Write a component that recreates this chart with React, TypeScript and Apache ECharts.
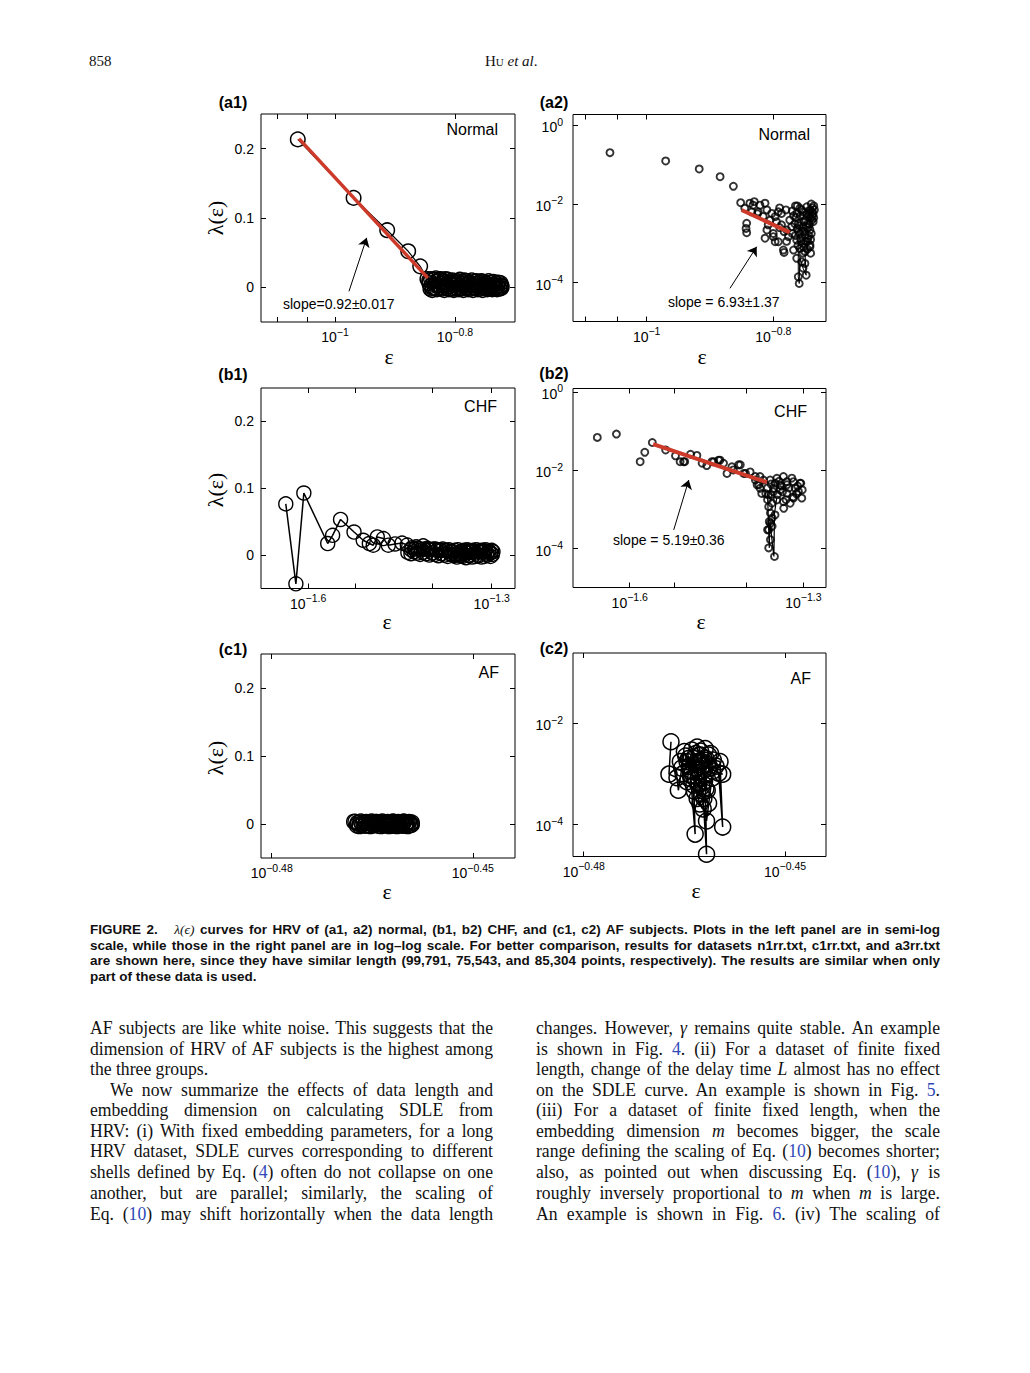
import React, { useEffect, useLayoutEffect, useRef } from 'react';
import * as echarts from 'echarts';

const SANS = '"Liberation Sans", Arial, Helvetica, sans-serif';
const SERIF = '"Liberation Serif", "Times New Roman", serif';
const RED = '#cd3a2a';
const BLUE = '#2f48b8';

// ---------- tick values (log10 exponents for log axes) ----------
const aXTicks = [-1, -0.8];
const aXMinor = [-1.0969, -1.0458];
const bXTicks = [-1.6, -1.3];
const bXMinor = [-1.5229, -1.3979];
const cXTicks = [-0.48, -0.45];
const linYTicks = [0, 0.1, 0.2];
const abLogYTicks = [-4, -2, 0];
const cLogYTicks = [-4, -2];

// ---------- (a1) Normal, semi-log: [log10 eps, lambda] ----------
const a1Points: number[][] = [
  [-1.062, 0.2134], [-0.969, 0.129], [-0.913, 0.0824], [-0.878, 0.052], [-0.858, 0.0303], [-0.846, 0.012],
  [-0.843, 0.006], [-0.840, 0.002], [-0.837, -0.001], [-0.834, 0.004], [-0.831, 0.009], [-0.828, 0.003],
  [-0.825, 0.011], [-0.822, 0.006], [-0.819, 0.002], [-0.816, 0.008], [-0.813, 0.004], [-0.810, 0.001],
  [-0.807, 0.006], [-0.804, 0.003], [-0.801, -0.002], [-0.798, 0.004], [-0.795, 0.007], [-0.792, 0.002],
  [-0.789, -0.001], [-0.786, 0.005], [-0.783, 0.003], [-0.780, 0.000], [-0.777, 0.006], [-0.774, 0.002],
  [-0.771, 0.004], [-0.768, -0.001], [-0.765, 0.003], [-0.762, 0.005], [-0.759, 0.001], [-0.756, 0.004],
  [-0.753, 0.000], [-0.750, 0.003], [-0.747, 0.005], [-0.744, 0.001], [-0.741, -0.002], [-0.738, 0.003],
  [-0.735, 0.004], [-0.732, 0.000], [-0.729, 0.002], [-0.726, -0.001], [-0.723, 0.003], [-0.722, 0.001],
  [-0.724, 0.006], [-0.728, 0.007], [-0.732, 0.006], [-0.736, 0.008], [-0.740, 0.007], [-0.744, 0.009],
  [-0.748, 0.006], [-0.752, 0.008], [-0.756, 0.009], [-0.760, 0.007], [-0.764, 0.009], [-0.768, 0.008],
  [-0.772, 0.010], [-0.776, 0.007], [-0.780, 0.009], [-0.784, 0.010], [-0.788, 0.008], [-0.792, 0.011],
  [-0.796, 0.009], [-0.800, 0.008], [-0.804, 0.010], [-0.808, 0.009], [-0.812, 0.011], [-0.816, 0.012],
  [-0.820, 0.009], [-0.824, 0.012], [-0.828, 0.010], [-0.832, 0.013], [-0.836, 0.011], [-0.840, 0.012],
  [-0.843, 0.010], [-0.841, -0.002], [-0.838, -0.004], [-0.834, -0.001], [-0.830, -0.003], [-0.826, 0.000],
  [-0.822, -0.002], [-0.818, -0.004], [-0.814, -0.001], [-0.810, -0.003], [-0.806, -0.002], [-0.802, -0.004],
  [-0.798, -0.001], [-0.794, -0.003], [-0.790, -0.002], [-0.786, -0.004], [-0.782, -0.001], [-0.778, -0.003],
  [-0.774, -0.002], [-0.770, -0.004], [-0.766, -0.001], [-0.762, -0.003], [-0.758, -0.002], [-0.754, -0.004],
  [-0.750, -0.001], [-0.746, -0.003], [-0.742, -0.002], [-0.738, -0.003], [-0.734, -0.002], [-0.730, -0.003],
  [-0.726, -0.002], [-0.723, -0.001],
];
const a1Fit: number[][] = [[-1.060, 0.2145], [-0.8455, 0.0136]];
const a1Arrow: number[][] = [[-0.9767, -0.0058], [-0.9472, 0.0714]];

// ---------- (a2) Normal, log-log: [log10 eps, log10 lambda] ----------
const a2Points: number[][] = [
  [-1.058, -0.695], [-0.970, -0.907], [-0.917, -1.11], [-0.884, -1.306], [-0.863, -1.55],
  [-0.8515, -1.967], [-0.845, -2.11], [-0.837, -1.98], [-0.832, -2.03], [-0.834, -2.20], [-0.842, -2.49],
  [-0.843, -2.62], [-0.842, -2.73], [-0.830, -1.94], [-0.821, -2.03], [-0.813, -1.98], [-0.825, -2.25],
  [-0.824, -2.20], [-0.816, -2.32], [-0.810, -2.15], [-0.8025, -2.24], [-0.805, -2.41], [-0.797, -2.32],
  [-0.792, -2.20], [-0.787, -2.24], [-0.790, -2.10], [-0.780, -2.15], [-0.770, -2.18], [-0.808, -2.53],
  [-0.810, -2.66], [-0.813, -2.87], [-0.800, -2.75], [-0.797, -2.96], [-0.800, -2.83], [-0.792, -2.96],
  [-0.784, -3.17], [-0.783, -3.23], [-0.787, -2.53], [-0.779, -2.66], [-0.776, -2.83], [-0.771, -2.58],
  [-0.774, -2.41], [-0.795, -2.45], [-0.790, -2.60], [-0.783, -2.70], [-0.779, -2.95], [-0.770, -2.75],
  [-0.766, -2.50], [-0.768, -2.30], [-0.765, -2.05],
  [-0.763, -2.24], [-0.758, -2.11], [-0.753, -2.20], [-0.747, -2.07], [-0.742, -2.15], [-0.737, -2.24],
  [-0.7605, -2.49], [-0.753, -2.58], [-0.745, -2.49], [-0.739, -2.41], [-0.758, -2.75], [-0.750, -2.79],
  [-0.742, -2.66], [-0.763, -2.92], [-0.753, -3.00], [-0.745, -2.87], [-0.758, -3.13], [-0.750, -3.21],
  [-0.742, -3.09], [-0.762, -2.05], [-0.757, -2.30], [-0.752, -2.45], [-0.747, -2.25], [-0.741, -2.35],
  [-0.736, -2.05], [-0.760, -2.70], [-0.754, -2.68], [-0.748, -2.58], [-0.743, -2.52], [-0.738, -2.30],
  [-0.761, -3.05], [-0.749, -2.95], [-0.744, -2.80], [-0.739, -2.20], [-0.735, -2.15], [-0.757, -2.88],
  [-0.752, -3.10], [-0.746, -3.15], [-0.765, -2.80], [-0.744, -2.30], [-0.740, -2.00], [-0.738, -2.10],
  [-0.764, -2.35], [-0.759, -2.55], [-0.755, -2.15], [-0.749, -2.40], [-0.745, -2.60], [-0.740, -2.75],
  [-0.737, -2.45], [-0.756, -2.95], [-0.751, -2.70], [-0.746, -2.95], [-0.741, -2.90], [-0.762, -2.62],
  [-0.752, -2.30], [-0.743, -2.18], [-0.736, -2.35],
  [-0.763, -3.38], [-0.753, -3.25], [-0.741, -3.25], [-0.755, -3.47], [-0.7605, -3.85], [-0.759, -4.02],
  [-0.748, -3.81], [-0.742, -3.04], [-0.750, -3.51], [-0.768, -3.17], [-0.753, -3.63],
];
const a2Column: number[][] = [[-0.7605, -3.00], [-0.7605, -3.85], [-0.759, -4.02], [-0.758, -3.40], [-0.753, -3.63], [-0.748, -3.81], [-0.750, -3.20]];
const a2Fit: number[][] = [[-0.850, -2.153], [-0.774, -2.72]];
const a2Arrow: number[][] = [[-0.8684, -4.143], [-0.8262, -3.086]];

// ---------- (b1) CHF, semi-log ----------
const b1Points: number[][] = [
  [-1.6365, 0.0766], [-1.620, -0.043], [-1.607, 0.0929], [-1.568, 0.0173], [-1.560, 0.0296], [-1.547, 0.0533],
  [-1.525, 0.0345], [-1.510, 0.0222], [-1.500, 0.0173], [-1.4936, 0.0148], [-1.487, 0.0271], [-1.477, 0.0247],
  [-1.469, 0.0148], [-1.458, 0.0166], [-1.4465, 0.018], [-1.438, 0.015], [-1.432, 0.0083], [-1.4235, 0.0123],
  [-1.412, 0.0138], [-1.403, 0.0083], [-1.392, 0.0091], [-1.383, 0.0069], [-1.375, 0.0069], [-1.369, 0.0056],
  [-1.365, 0.0045], [-1.360, 0.0012], [-1.357, 0.0008], [-1.354, 0.003], [-1.350, -0.001], [-1.347, 0.002],
  [-1.343, 0.005], [-1.340, 0.0035], [-1.336, 0.0065], [-1.333, 0.004], [-1.330, 0.006], [-1.326, 0.003],
  [-1.322, 0.005], [-1.318, 0.0068], [-1.315, 0.004], [-1.311, 0.006], [-1.308, 0.003], [-1.305, 0.005],
  [-1.302, 0.0035], [-1.298, 0.005],
  [-1.300, 0.007], [-1.305, 0.006], [-1.310, 0.008], [-1.315, 0.007], [-1.320, 0.006], [-1.325, 0.008],
  [-1.330, 0.007], [-1.335, 0.006], [-1.340, 0.008], [-1.345, 0.007], [-1.350, 0.006], [-1.355, 0.008],
  [-1.360, 0.007], [-1.365, 0.006], [-1.370, 0.008], [-1.375, 0.007], [-1.380, 0.009], [-1.385, 0.008],
  [-1.390, 0.007], [-1.395, 0.009], [-1.400, 0.008], [-1.405, 0.010], [-1.410, 0.009], [-1.415, 0.008],
  [-1.420, 0.010], [-1.425, 0.009], [-1.430, 0.011], [-1.437, 0.004], [-1.432, 0.002], [-1.427, 0.005],
  [-1.422, 0.003], [-1.417, 0.001], [-1.412, 0.004], [-1.407, 0.002], [-1.402, 0.000], [-1.397, 0.003],
  [-1.392, 0.001], [-1.387, -0.001], [-1.382, 0.002], [-1.377, 0.000], [-1.372, -0.002], [-1.367, 0.001],
  [-1.362, -0.001], [-1.357, -0.003], [-1.352, 0.000], [-1.347, -0.002], [-1.342, -0.004], [-1.337, -0.001],
  [-1.332, -0.003], [-1.327, -0.002], [-1.322, -0.001], [-1.317, -0.003], [-1.312, -0.002], [-1.307, 0.000],
  [-1.302, -0.002], [-1.299, 0.001],
];

// ---------- (b2) CHF, log-log ----------
const b2Points: number[][] = [
  [-1.656, -1.16], [-1.623, -1.076], [-1.582, -1.78], [-1.574, -1.54], [-1.561, -1.29], [-1.538, -1.48],
  [-1.521, -1.63], [-1.513, -1.78], [-1.505, -1.78], [-1.507, -1.78], [-1.495, -1.59], [-1.484, -1.62],
  [-1.475, -1.82], [-1.467, -1.88], [-1.458, -1.78], [-1.455, -1.78], [-1.4465, -1.74], [-1.444, -1.74],
  [-1.438, -1.82], [-1.432, -2.08], [-1.4235, -1.91], [-1.421, -1.99], [-1.412, -1.86], [-1.409, -1.86],
  [-1.403, -2.08], [-1.400, -2.08], [-1.392, -2.04], [-1.383, -2.16], [-1.383, -2.25], [-1.375, -2.16],
  [-1.380, -2.37], [-1.375, -2.46], [-1.377, -2.37], [-1.372, -2.59], [-1.369, -2.25],
  [-1.3574, -2.247], [-1.3459, -2.204], [-1.3345, -2.16], [-1.3286, -2.29], [-1.3172, -2.29], [-1.3057, -2.33],
  [-1.3086, -2.54], [-1.3028, -2.71], [-1.3172, -2.71], [-1.3286, -2.585], [-1.3402, -2.50], [-1.3517, -2.46],
  [-1.3603, -2.63], [-1.3459, -2.755], [-1.3345, -2.80], [-1.3229, -2.84], [-1.3545, -2.84], [-1.3402, -2.374],
  [-1.3143, -2.46], [-1.3488, -2.33], [-1.3045, -2.33], [-1.3286, -2.37], [-1.338, -2.40], [-1.325, -2.45],
  [-1.312, -2.60], [-1.345, -2.62], [-1.320, -2.20], [-1.310, -2.40], [-1.302, -2.50], [-1.352, -2.55],
  [-1.330, -2.75], [-1.318, -2.68], [-1.356, -2.35], [-1.362, -2.45], [-1.342, -2.28], [-1.336, -2.55],
  [-1.360, -2.93], [-1.357, -3.09], [-1.354, -3.22], [-1.349, -3.14], [-1.357, -3.35], [-1.360, -3.52],
  [-1.354, -3.43], [-1.357, -3.77], [-1.360, -3.98], [-1.350, -4.20], [-1.362, -3.52], [-1.359, -3.31],
  [-1.334, -2.97], [-1.362, -2.75], [-1.365, -2.60], [-1.356, -2.62],
];
const b2Column: number[][] = [[-1.362, -2.6], [-1.359, -3.98], [-1.358, -3.3], [-1.351, -4.20], [-1.350, -3.1], [-1.346, -2.7]];
const b2Fit: number[][] = [[-1.5597, -1.331], [-1.363, -2.305]];
const b2Arrow: number[][] = [[-1.524, -3.52], [-1.498, -2.247]];

// ---------- (c1) AF, semi-log ----------
const c1Points: number[][] = [
  [-0.4677, 0.0034], [-0.4669, -0.0004], [-0.4672, 0.0012], [-0.4660, 0.0022], [-0.4650, 0.0010], [-0.4655, -0.0015],
  [-0.4641, 0.0018], [-0.4646, -0.0006], [-0.4636, 0.0002], [-0.4631, 0.0025], [-0.4626, -0.0020], [-0.4629, 0.0008],
  [-0.4619, 0.0030], [-0.4622, -0.0010], [-0.4614, 0.0012], [-0.4617, -0.0025], [-0.4609, 0.0020], [-0.4612, -0.0005],
  [-0.4605, 0.0008], [-0.4600, -0.0015], [-0.4597, 0.0020], [-0.4599, 0.0002], [-0.4593, 0.0010], [-0.4591, -0.0008],
  [-0.4603, 0.0028], [-0.4634, -0.0018], [-0.4645, 0.0030], [-0.4624, 0.0015],
  [-0.4675, 0.0030], [-0.4671, 0.0020], [-0.4667, 0.0035], [-0.4663, 0.0020], [-0.4659, 0.0030], [-0.4655, 0.0025],
  [-0.4651, 0.0035], [-0.4647, 0.0020], [-0.4643, 0.0030], [-0.4639, 0.0025], [-0.4635, 0.0035], [-0.4631, 0.0020],
  [-0.4627, 0.0030], [-0.4623, 0.0025], [-0.4619, 0.0035], [-0.4615, 0.0020], [-0.4611, 0.0030], [-0.4607, 0.0025],
  [-0.4603, 0.0035], [-0.4599, 0.0020], [-0.4595, 0.0030], [-0.4591, 0.0020],
  [-0.4593, -0.0015], [-0.4597, -0.0030], [-0.4601, -0.0020], [-0.4605, -0.0025], [-0.4609, -0.0015], [-0.4613, -0.0030],
  [-0.4617, -0.0020], [-0.4621, -0.0010], [-0.4625, -0.0030], [-0.4629, -0.0020], [-0.4633, -0.0015], [-0.4637, -0.0030],
  [-0.4641, -0.0025], [-0.4645, -0.0010], [-0.4649, -0.0020], [-0.4653, -0.0030], [-0.4657, -0.0015], [-0.4661, -0.0025],
  [-0.4665, -0.0010], [-0.4669, -0.0030], [-0.4673, -0.0020],
];

// ---------- (c2) AF, log-log ----------
const c2Points: number[][] = [
  [-0.4670, -2.366], [-0.4673, -3.01], [-0.4661, -3.08], [-0.4659, -3.33], [-0.4650, -2.56], [-0.4656, -2.76],
  [-0.4646, -2.76], [-0.4654, -2.89], [-0.4636, -2.70], [-0.4641, -3.03], [-0.4634, -4.20], [-0.4636, -3.23],
  [-0.4619, -2.50], [-0.4626, -2.63], [-0.4617, -4.60], [-0.4619, -3.03], [-0.4614, -2.63], [-0.4607, -2.73],
  [-0.4597, -2.76], [-0.4593, -4.06], [-0.4599, -2.99], [-0.4593, -3.01], [-0.4612, -2.89], [-0.4622, -2.83],
  [-0.4631, -2.89], [-0.4629, -3.09], [-0.4617, -3.94], [-0.4609, -3.09], [-0.4624, -3.26], [-0.4631, -3.49],
  [-0.4621, -3.49], [-0.4614, -3.59], [-0.4646, -3.16], [-0.4639, -2.53], [-0.4631, -2.47], [-0.4624, -2.76],
  [-0.4616, -3.33], [-0.4648, -2.65], [-0.4643, -2.85], [-0.4638, -2.95], [-0.4633, -2.60], [-0.4628, -2.75],
  [-0.4623, -2.95], [-0.4618, -2.70], [-0.4613, -2.85], [-0.4608, -2.95], [-0.4640, -3.10], [-0.4630, -3.20],
  [-0.4620, -3.15], [-0.4626, -2.55], [-0.4611, -2.60], [-0.4603, -2.85], [-0.4652, -3.00], [-0.4635, -3.35],
  [-0.4625, -3.40], [-0.4618, -3.30], [-0.4644, -2.70], [-0.4627, -3.60], [-0.4622, -3.70],
];

// ---------- layout ----------
const panels = [
  { left: 261, top: 114, width: 254, height: 208, x: [-1.1233, -0.7], y: [-0.05, 0.25], xt: aXTicks, xm: aXMinor, yt: linYTicks, yLog: false },
  { left: 573, top: 114.5, width: 253, height: 207, x: [-1.1164, -0.7167], y: [-4.986, 0.274], xt: aXTicks, xm: aXMinor, yt: abLogYTicks, yLog: true },
  { left: 261, top: 388, width: 254, height: 200.5, x: [-1.677, -1.262], y: [-0.05, 0.25], xt: bXTicks, xm: bXMinor, yt: linYTicks, yLog: false },
  { left: 573, top: 388.5, width: 253, height: 199, x: [-1.698, -1.261], y: [-4.991, 0.088], xt: bXTicks, xm: bXMinor, yt: abLogYTicks, yLog: true },
  { left: 261, top: 654, width: 254, height: 204, x: [-0.4816, -0.4437], y: [-0.05, 0.25], xt: cXTicks, xm: [], yt: linYTicks, yLog: false },
  { left: 573, top: 653, width: 253, height: 203.5, x: [-0.4816, -0.4439], y: [-4.645, -0.604], xt: cXTicks, xm: [], yt: cLogYTicks, yLog: true },
];

const expText = (v: number) => {
  const r = Math.round(v * 100) / 100;
  return r === 0 ? '0' : '\u2212' + String(Math.abs(r));
};
const logLabel = (v: number) => `{b|10}{s|${expText(v)}}`;
const rich = {
  b: { fontSize: 14, fontFamily: SANS, color: '#000', lineHeight: 18, verticalAlign: 'bottom' },
  s: { fontSize: 10.5, fontFamily: SANS, color: '#000', verticalAlign: 'top' },
};

const circle = (bw: number) => ({ color: 'rgba(0,0,0,0)', borderColor: '#000', borderWidth: bw });
const arrowMark = (pts: number[][]) => ({
  silent: true,
  symbol: ['none', 'arrow'],
  symbolSize: 9,
  lineStyle: { color: '#000', width: 1, type: 'solid' },
  itemStyle: { color: '#000' },
  label: { show: false },
  emphasis: { disabled: true },
  data: [[{ coord: pts[0] }, { coord: pts[1] }]],
});

const textItems: any[] = [
  { t: '(a1)', x: 233, y: 102, s: 16, w: 'bold', a: 'center' },
  { t: '(a2)', x: 554, y: 102, s: 16, w: 'bold', a: 'center' },
  { t: '(b1)', x: 233, y: 374, s: 16, w: 'bold', a: 'center' },
  { t: '(b2)', x: 554, y: 373, s: 16, w: 'bold', a: 'center' },
  { t: '(c1)', x: 233, y: 649, s: 16, w: 'bold', a: 'center' },
  { t: '(c2)', x: 554, y: 648, s: 16, w: 'bold', a: 'center' },
  { t: 'Normal', x: 498, y: 129, s: 16, a: 'right' },
  { t: 'Normal', x: 810, y: 134, s: 16, a: 'right' },
  { t: 'CHF', x: 497, y: 406, s: 16, a: 'right' },
  { t: 'CHF', x: 807, y: 411, s: 16, a: 'right' },
  { t: 'AF', x: 499, y: 672, s: 16, a: 'right' },
  { t: 'AF', x: 811, y: 678, s: 16, a: 'right' },
  { t: 'slope=0.92\u00b10.017', x: 283, y: 304, s: 14, a: 'left' },
  { t: 'slope = 6.93\u00b11.37', x: 668, y: 302, s: 14, a: 'left' },
  { t: 'slope = 5.19\u00b10.36', x: 613, y: 540, s: 14, a: 'left' },
  { t: '\u03bb(\u03b5)', x: 215, y: 218, s: 22, f: SERIF, a: 'center', r: Math.PI / 2 },
  { t: '\u03bb(\u03b5)', x: 215, y: 490, s: 22, f: SERIF, a: 'center', r: Math.PI / 2 },
  { t: '\u03bb(\u03b5)', x: 215, y: 758, s: 22, f: SERIF, a: 'center', r: Math.PI / 2 },
  { t: '\u03b5', x: 389, y: 356, s: 22, f: SERIF, a: 'center' },
  { t: '\u03b5', x: 702, y: 356, s: 22, f: SERIF, a: 'center' },
  { t: '\u03b5', x: 387, y: 621, s: 22, f: SERIF, a: 'center' },
  { t: '\u03b5', x: 701, y: 621, s: 22, f: SERIF, a: 'center' },
  { t: '\u03b5', x: 387, y: 891, s: 22, f: SERIF, a: 'center' },
  { t: '\u03b5', x: 696, y: 890, s: 22, f: SERIF, a: 'center' },
];

function buildOption(): any {
  const grids = panels.map((p) => ({
    left: p.left, top: p.top, width: p.width, height: p.height,
    show: true, borderColor: '#000', borderWidth: 1, backgroundColor: 'transparent',
  }));
  const tick = (vals: number[]) => ({ show: true, inside: true, length: 5, customValues: vals, lineStyle: { color: '#000', width: 1 } });
  const xAxes = [
    ...panels.map((p, i) => ({
      type: 'value', gridIndex: i, min: p.x[0], max: p.x[1], position: 'bottom',
      axisLine: { show: false, onZero: false }, splitLine: { show: false },
      axisTick: tick([...p.xt, ...p.xm]),
      axisLabel: { show: true, customValues: p.xt, formatter: (v: number) => logLabel(v), margin: 4, rich },
    })),
    ...panels.map((p, i) => ({
      type: 'value', gridIndex: i, min: p.x[0], max: p.x[1], position: 'top',
      axisLine: { show: false, onZero: false }, splitLine: { show: false },
      axisTick: tick([...p.xt, ...p.xm]), axisLabel: { show: false },
    })),
  ];
  const yAxes = [
    ...panels.map((p, i) => ({
      type: 'value', gridIndex: i, min: p.y[0], max: p.y[1], position: 'left',
      axisLine: { show: false, onZero: false }, splitLine: { show: false },
      axisTick: tick(p.yt),
      axisLabel: p.yLog
        ? { show: true, customValues: p.yt, formatter: (v: number) => logLabel(v), margin: 10, rich }
        : { show: true, customValues: p.yt, formatter: (v: number) => (Math.abs(v) < 1e-9 ? '0' : String(Math.round(v * 10) / 10)), margin: 7, fontSize: 14, fontFamily: SANS, color: '#000' },
    })),
    ...panels.map((p, i) => ({
      type: 'value', gridIndex: i, min: p.y[0], max: p.y[1], position: 'right',
      axisLine: { show: false, onZero: false }, splitLine: { show: false },
      axisTick: tick(p.yt), axisLabel: { show: false },
    })),
  ];

  const lineWithCircles = (i: number, data: number[][], size: number, bw: number, lw: number) => ({
    type: 'line', xAxisIndex: i, yAxisIndex: i, data, symbol: 'circle', symbolSize: size, showAllSymbol: true,
    itemStyle: circle(bw), lineStyle: { color: '#000', width: lw }, clip: false, z: 2, silent: true,
  });
  const scatterCircles = (i: number, data: number[][], size: number, bw: number) => ({
    type: 'scatter', xAxisIndex: i, yAxisIndex: i, data, symbol: 'circle', symbolSize: size,
    itemStyle: circle(bw), clip: false, z: 2, silent: true,
  });
  const plainLine = (i: number, data: number[][], color: string, width: number, z: number, extra: any = {}) => ({
    type: 'line', xAxisIndex: i, yAxisIndex: i, data, symbol: 'none', lineStyle: { color, width }, z, silent: true, clip: false, ...extra,
  });

  const series = [
    lineWithCircles(0, a1Points, 14.5, 1.5, 1.2),
    plainLine(0, a1Fit, RED, 3.5, 4, { markLine: arrowMark(a1Arrow) }),
    scatterCircles(1, a2Points, 7, 1.9),
    plainLine(1, a2Column, '#000', 1, 3),
    plainLine(1, a2Fit, RED, 4, 4, { markLine: arrowMark(a2Arrow) }),
    lineWithCircles(2, b1Points, 14, 1.4, 1.5),
    scatterCircles(3, b2Points, 7, 1.9),
    plainLine(3, b2Column, '#000', 1.2, 3),
    plainLine(3, b2Fit, RED, 4, 4, { markLine: arrowMark(b2Arrow) }),
    lineWithCircles(4, c1Points, 15, 1.4, 1.5),
    lineWithCircles(5, c2Points, 16, 1.5, 1.5),
  ];

  const graphic = textItems.map((t) => ({
    type: 'text', x: t.x, y: t.y, rotation: t.r || 0, silent: true, z: 10,
    style: {
      text: t.t, fontSize: t.s, fontFamily: t.f || SANS, fontWeight: t.w || 'normal',
      fill: '#000', align: t.a, verticalAlign: 'middle',
    },
  }));

  return { animation: false, backgroundColor: 'transparent', grid: grids, xAxis: xAxes, yAxis: yAxes, series, graphic };
}

// ---------- page text ----------
const captionLines = [
  'FIGURE 2.\u00a0\u00a0 *\u03bb(\u03f5)* curves for HRV of (a1, a2) normal, (b1, b2) CHF, and (c1, c2) AF subjects. Plots in the left panel are in semi-log',
  'scale, while those in the right panel are in log\u2013log scale. For better comparison, results for datasets n1rr.txt, c1rr.txt, and a3rr.txt',
  'are shown here, since they have similar length (99,791, 75,543, and 85,304 points, respectively). The results are similar when only',
  'part of these data is used.',
];
const captionY = [930, 946, 961, 977];

const leftCol = [
  'AF subjects are like white noise. This suggests that the',
  'dimension of HRV of AF subjects is the highest among',
  'the three groups.',
  'We now summarize the effects of data length and',
  'embedding dimension on calculating SDLE from',
  'HRV: (i) With fixed embedding parameters, for a long',
  'HRV dataset, SDLE curves corresponding to different',
  'shells defined by Eq. (#4#) often do not collapse on one',
  'another, but are parallel; similarly, the scaling of',
  'Eq. (#10#) may shift horizontally when the data length',
];
const rightCol = [
  'changes. However, *\u03b3* remains quite stable. An example',
  'is shown in Fig. #4#. (ii) For a dataset of finite fixed',
  'length, change of the delay time *L* almost has no effect',
  'on the SDLE curve. An example is shown in Fig. #5#.',
  '(iii) For a dataset of finite fixed length, when the',
  'embedding dimension *m* becomes bigger, the scale',
  'range defining the scaling of Eq. (#10#) becomes shorter;',
  'also, as pointed out when discussing Eq. (#10#), *\u03b3* is',
  'roughly inversely proportional to *m* when *m* is large.',
  'An example is shown in Fig. #6#. (iv) The scaling of',
];
const bodyY = [1028, 1049, 1069, 1090, 1110, 1131, 1151, 1172, 1193, 1214];

type LineSpec = {
  key: string; text: string; left: number; y: number; width: number; h: number;
  family: string; size: number; weight: string; base: number; justify: boolean; serifItalic: boolean;
};

const lineSpecs: LineSpec[] = [
  ...captionLines.map((t, i) => ({
    key: 'cap' + i, text: t, left: 90, y: captionY[i], width: 850, h: 16, family: SANS, size: 13.5, weight: 'bold',
    base: 1.0, justify: i < 3, serifItalic: true,
  })),
  ...leftCol.map((t, i) => ({
    key: 'l' + i, text: t, left: i === 3 ? 110 : 90, y: bodyY[i], width: i === 3 ? 383 : 403, h: 20, family: SERIF, size: 18,
    weight: 'normal', base: 0.98, justify: i !== 2, serifItalic: false,
  })),
  ...rightCol.map((t, i) => ({
    key: 'r' + i, text: t, left: 536, y: bodyY[i], width: 404, h: 20, family: SERIF, size: 18,
    weight: 'normal', base: 0.98, justify: true, serifItalic: false,
  })),
];

function renderRich(s: string, serifItalic = false) {
  return s.split(/(\*[^*]+\*|#[^#]+#)/).filter(Boolean).map((seg, k) => {
    if (seg.startsWith('*')) {
      return <i key={k} style={serifItalic ? { fontFamily: SERIF, fontWeight: 'normal' } : undefined}>{seg.slice(1, -1)}</i>;
    }
    if (seg.startsWith('#')) return <span key={k} style={{ color: BLUE }}>{seg.slice(1, -1)}</span>;
    return <React.Fragment key={k}>{seg}</React.Fragment>;
  });
}

export default function App() {
  const ref = useRef<HTMLDivElement>(null);
  const lineRefs = useRef<(HTMLDivElement | null)[]>([]);

  useEffect(() => {
    if (!ref.current) return;
    const chart = echarts.init(ref.current, undefined, { renderer: 'svg', width: 1030, height: 1373 });
    chart.setOption(buildOption());
    return () => chart.dispose();
  }, []);

  useLayoutEffect(() => {
    const fit = () => {
      lineSpecs.forEach((s, i) => {
        const el = lineRefs.current[i];
        if (!el) return;
        el.style.wordSpacing = '0px';
        el.style.transform = 'none';
        const w = el.getBoundingClientRect().width;
        const target = s.width / s.base;
        const n = ((el.textContent || '').match(/[ \u00a0]/g) || []).length;
        if (w > target) {
          el.style.transform = `scaleX(${s.width / w})`;
        } else {
          el.style.transform = `scaleX(${s.base})`;
          if (s.justify && n > 0) el.style.wordSpacing = `${(target - w) / n}px`;
        }
      });
    };
    fit();
    const fonts = (document as any).fonts;
    if (fonts && fonts.ready) fonts.ready.then(fit);
  }, []);

  return (
    <div style={{ position: 'absolute', left: 0, top: 0, width: 1030, height: 1373, background: '#fff', overflow: 'hidden', color: '#111' }}>
      <div ref={ref} style={{ position: 'absolute', left: 0, top: 0, width: 1030, height: 1373 }} />
      <div style={{ position: 'absolute', left: 89, top: 51, height: 20, lineHeight: '20px', fontFamily: SERIF, fontSize: 15 }}>858</div>
      <div style={{ position: 'absolute', left: 485, top: 51, height: 20, lineHeight: '20px', fontFamily: SERIF, fontSize: 15, whiteSpace: 'nowrap' }}>
        H<span style={{ fontSize: 11 }}>U</span> <i>et al</i>.
      </div>
      {lineSpecs.map((s, i) => (
        <div
          key={s.key}
          ref={(el) => { lineRefs.current[i] = el; }}
          style={{
            position: 'absolute', left: s.left, top: s.y - s.h / 2, height: s.h, lineHeight: `${s.h}px`,
            fontFamily: s.family, fontSize: s.size, fontWeight: s.weight as any, whiteSpace: 'nowrap',
            transformOrigin: 'left top', transform: `scaleX(${s.base})`,
          }}
        >
          {renderRich(s.text, s.serifItalic)}
        </div>
      ))}
    </div>
  );
}
